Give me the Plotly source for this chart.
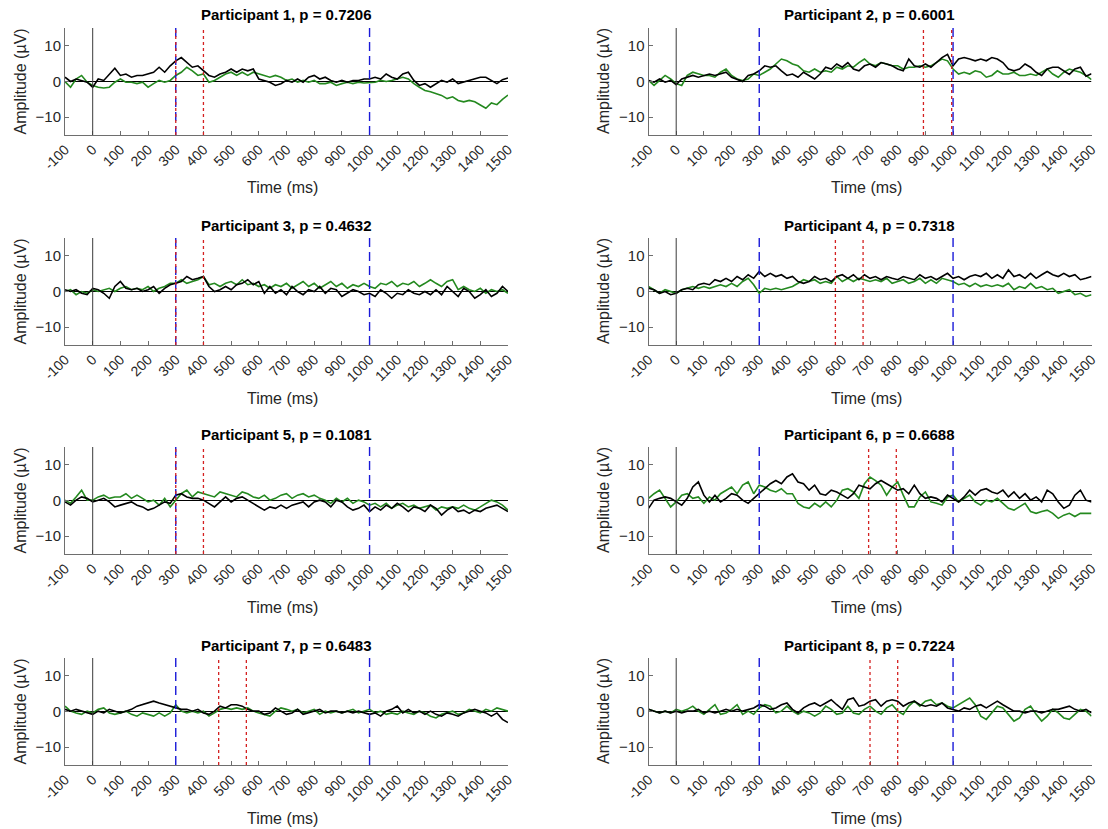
import plotly.graph_objects as go

# Sample times (ms), one value every 20 ms from -100 to 1500
TIME_MS = list(range(-100, 1520, 20))

PARTICIPANTS = [1, 2, 3, 4, 5, 6, 7, 8]
P_VALUES = ["0.7206", "0.6001", "0.4632", "0.7318", "0.1081", "0.6688", "0.6483", "0.7224"]

# Analysis window edges (red dotted) per participant, ms
WINDOW_START = [300, 893, 300, 575, 300, 695, 455, 700]
WINDOW_END = [400, 995, 400, 675, 400, 795, 555, 800]

# Search interval (blue dashed) and stimulus onset, ms
SEARCH_EDGES = [300, 1000]
ONSET_MS = 0

# Condition A (black) and condition B (green) average waveforms, µV
p1_black = [1.2, 0.0, 0.7, 0.3, -0.2, -1.6, 0.7, 0.3, 2.1, 3.7, 1.7, 2.1, 1.2, 1.7, 1.7, 2.1, 2.6, 4.0, 2.6, 4.4,
            5.8, 6.7, 5.3, 4.0, 4.4, 3.0, 1.7, 1.2, 2.1, 2.6, 3.5, 2.6, 3.5, 3.0, 3.5, 0.7, 0.3, -0.2, -1.1, -0.6,
            0.3, -0.2, 0.7, -0.2, 1.2, 1.7, 0.7, 1.2, 0.3, -0.2, 0.3, -0.2, 0.3, 0.3, 0.7, 0.7, 1.2, 0.7, 2.1, 1.2,
            0.7, 2.1, 2.6, 0.3, -1.1, -0.6, -1.6, -0.6, 0.3, -0.2, 0.7, -0.6, -0.2, 0.3, 0.7, 1.2, 1.2, 0.3, -0.6, 0.5,
            1.0]
p1_green = [0.0, -1.6, 0.7, 1.7, -0.2, -1.1, -1.6, -1.8, -1.6, -0.2, 0.7, -0.2, -0.2, -0.6, -0.2, -1.6, -0.6, 0.3, -0.2, 0.3,
            1.7, 2.6, 4.0, 3.0, 1.7, 2.1, -0.2, 0.3, 1.2, 2.1, 2.6, 1.7, 2.6, 1.7, 2.6, 2.1, 1.7, 1.2, 1.7, 1.2,
            0.3, 0.7, -0.2, 0.3, -0.2, 0.3, -0.6, -0.6, -0.2, -1.1, -0.6, -0.2, -0.6, -0.2, -0.4, -0.2, -0.2, 0.3, 0.0, 0.3,
            0.7, 1.2, 0.7, -0.6, -1.6, -2.5, -2.9, -3.4, -3.9, -4.8, -4.3, -5.3, -5.7, -5.3, -5.7, -6.6, -7.5, -6.0, -6.5, -5.0,
            -3.8]
p2_black = [0.3, -0.2, 0.7, -0.2, 0.3, -0.9, 0.7, 1.2, 1.7, 1.2, 1.7, 2.1, 1.7, 2.1, 2.6, 1.2, 0.7, 0.0, 1.7, 2.1,
            3.0, 4.4, 4.0, 4.4, 3.0, 1.7, 2.1, 1.2, 2.6, 1.7, 0.7, 2.1, 4.0, 3.5, 4.9, 4.0, 5.3, 3.5, 3.0, 4.4,
            4.9, 4.0, 5.3, 4.9, 4.4, 3.5, 3.0, 6.3, 4.4, 4.0, 4.9, 4.0, 5.3, 6.7, 7.6, 4.4, 6.3, 6.7, 6.3, 5.8,
            6.3, 5.8, 6.7, 6.3, 5.3, 3.5, 3.0, 3.5, 4.9, 4.0, 2.6, 1.7, 3.5, 4.0, 4.0, 3.0, 2.0, 3.5, 4.0, 1.5,
            2.2]
p2_green = [0.3, -1.1, 0.3, 1.7, 0.7, -0.6, -1.1, 1.7, 2.6, 2.1, 1.7, 1.7, 1.2, 2.6, 3.5, 1.7, 0.7, 0.3, 0.7, 2.1,
            1.7, 2.6, 3.5, 4.9, 6.3, 5.8, 4.9, 4.4, 3.0, 2.6, 3.5, 2.6, 3.0, 2.6, 4.0, 3.5, 4.4, 4.0, 5.3, 6.3,
            4.9, 4.4, 5.3, 4.9, 4.4, 4.4, 3.5, 4.0, 4.0, 4.4, 4.0, 4.4, 5.3, 6.3, 5.8, 3.5, 2.1, 2.6, 2.1, 3.0,
            2.6, 1.2, 1.7, 3.0, 2.1, 2.1, 2.6, 1.7, 1.7, 2.1, 1.7, 2.6, 3.5, 2.1, 1.2, 2.6, 3.5, 3.0, 2.6, 1.7,
            0.5]
p3_black = [0.5, 0.0, 0.5, -0.5, -0.9, 0.9, 0.5, -0.5, -1.9, 1.4, 2.8, 0.9, 0.5, 0.9, 0.0, 0.5, 1.4, -0.5, 0.9, 1.9,
            2.3, 2.8, 4.2, 3.3, 3.7, 4.2, 1.4, 0.0, 0.5, 1.4, 0.5, 1.9, 2.3, 3.3, 1.9, 2.8, -0.5, 1.4, -0.5, 0.5,
            -0.9, 1.4, 0.0, -0.9, 0.5, 0.0, 1.4, -0.5, 0.9, 0.5, -1.4, -0.5, 0.5, 0.0, -0.9, -0.5, -1.4, 0.5, -0.5, -1.9,
            -0.5, -0.9, 0.5, -0.5, -0.9, 0.0, -0.9, 0.5, -0.9, 1.4, 0.0, -1.4, 0.9, 0.0, -1.9, -0.9, 0.5, -1.4, -0.5, 1.4,
            0.0]
p3_green = [0.0, 0.5, -0.9, 0.0, -0.5, 0.5, 0.0, 0.5, 0.9, 0.0, 0.9, 1.4, 0.5, 0.9, 0.5, 1.4, 0.0, 0.9, 1.4, 2.3,
            2.3, 3.3, 2.3, 2.8, 3.3, 4.2, 1.9, 2.3, 1.4, 2.3, 2.8, 1.9, 3.3, 1.9, 2.3, 1.4, 1.9, 0.9, 1.9, 1.4,
            2.3, 0.9, 1.9, 2.8, 1.4, 2.3, 0.9, 1.9, 2.8, 1.4, 2.3, 0.9, 1.9, 1.4, 2.3, 1.4, 0.9, 2.3, 1.9, 2.8,
            1.4, 2.3, 1.9, 2.8, 1.4, 2.3, 3.3, 2.3, 1.4, 2.8, 3.3, 0.5, 1.4, 0.5, 0.0, 0.9, -0.5, 0.5, 0.0, 0.5,
            -0.5]
p4_black = [0.9, 0.5, -0.5, 0.0, -0.9, -0.5, 0.5, 0.9, 0.5, 1.9, 2.3, 1.9, 3.3, 2.8, 3.7, 2.8, 4.2, 3.3, 4.7, 3.7,
            5.6, 4.2, 5.1, 4.2, 4.7, 3.7, 4.2, 2.8, 2.3, 2.8, 4.2, 3.3, 3.7, 2.8, 4.2, 4.7, 3.7, 4.7, 3.3, 4.7,
            3.7, 4.2, 3.3, 4.2, 3.7, 3.3, 4.2, 3.7, 3.3, 4.7, 3.7, 4.2, 3.3, 4.2, 5.1, 3.7, 4.2, 3.3, 4.2, 4.7,
            4.2, 5.1, 3.7, 4.7, 3.7, 6.1, 4.2, 4.7, 3.7, 5.1, 3.7, 4.7, 5.6, 4.7, 4.2, 5.1, 4.2, 4.7, 3.3, 3.7,
            4.2]
p4_green = [1.4, 0.5, -0.5, 0.5, 0.0, -0.5, 0.5, 0.9, 1.4, 0.9, 1.4, 0.9, 1.4, 1.9, 1.4, 2.3, 1.4, 2.8, 3.7, 1.9,
            -0.5, 0.9, 0.5, 0.9, 0.5, 0.9, 1.4, 2.3, 3.3, 2.8, 3.3, 2.3, 2.8, 2.3, 4.2, 2.8, 3.7, 2.8, 3.7, 3.3,
            2.8, 3.3, 2.8, 3.7, 2.3, 2.8, 3.3, 2.3, 2.8, 3.7, 2.3, 3.3, 2.3, 3.7, 3.3, 2.8, 1.9, 2.3, 1.4, 2.3,
            1.4, 1.9, 1.4, 1.9, 1.4, 2.3, 0.5, 1.4, 0.9, 2.3, 0.9, 1.4, 0.5, 0.9, -0.5, 0.0, 0.5, -0.9, -0.5, -1.4,
            -0.9]
p5_black = [-0.4, -1.3, 0.1, 1.0, 0.6, -0.4, 0.1, 0.6, -0.4, -1.8, -1.3, -0.8, -0.4, -1.3, -1.8, -2.7, -2.2, -1.3, -0.4, -0.8,
            1.5, 1.9, 1.0, 0.6, 0.6, 0.1, -0.8, -1.8, -0.4, 1.0, -0.4, 0.6, 1.0, 0.1, -0.8, -1.8, -2.7, -1.8, -2.2, -1.3,
            -2.2, -1.3, -0.8, -0.4, -1.8, -0.4, 0.1, -0.4, -1.8, 0.1, -0.4, -1.8, -2.7, -2.2, -1.3, -3.1, -1.8, -2.7, -1.3, -2.2,
            -0.8, -1.8, -3.1, -1.8, -2.2, -3.1, -1.3, -2.2, -4.1, -2.7, -1.8, -3.1, -2.7, -3.6, -2.7, -3.1, -2.2, -1.8, -1.3, -2.2,
            -3.1]
p5_green = [0.1, -0.8, 1.0, 2.9, 0.1, 0.1, 1.0, 1.5, 0.6, 1.0, 1.0, 1.9, 0.6, 1.5, 0.6, -0.4, 0.1, -1.3, 0.6, -1.8,
            0.1, 1.9, 2.9, 1.0, 2.4, 1.9, 1.5, 1.0, 2.4, 1.9, 1.5, 1.0, 2.4, 1.9, 1.0, 0.6, 1.5, 0.1, 0.6, 1.5,
            1.9, 0.6, 1.5, 1.9, 1.0, 1.5, 0.6, 0.1, -0.8, 0.6, -0.4, 0.6, -0.8, 0.1, -0.4, -1.3, -0.8, -1.8, -0.8, -2.2,
            -1.3, -0.8, -1.8, -1.3, -2.2, -1.8, -1.3, -2.7, -1.8, -2.2, -1.8, -2.2, -1.3, -2.2, -2.7, -1.8, -0.8, 0.1, -0.4, -1.3,
            -2.7]
p6_black = [-2.2, 0.1, 0.6, 1.0, 0.6, -0.4, -1.3, 0.6, 3.8, 5.2, 1.5, -0.4, 1.5, -0.4, 0.6, 1.9, 1.5, 0.1, -0.8, 0.6,
            1.9, 3.3, 4.7, 5.6, 4.7, 6.6, 7.5, 5.2, 4.7, 2.9, 4.3, 1.9, 1.5, 2.9, 2.4, 1.5, 0.6, 1.9, 4.3, 3.8,
            3.3, 4.7, 5.6, 4.7, 3.8, 2.9, 3.3, 1.9, 4.3, 1.9, 0.6, 1.0, 0.6, -0.4, 1.5, 0.6, -0.4, 1.0, 2.9, 1.5,
            2.9, 3.3, 2.4, 1.9, 2.9, 1.0, 2.4, 0.6, 1.9, 0.1, 1.0, -0.4, 2.9, 1.9, -0.4, -2.2, -1.3, 1.5, 2.9, 0.1,
            -0.4]
p6_green = [0.6, 1.9, 2.9, 0.6, -1.8, -0.4, 1.5, 1.9, 0.6, 1.0, -0.8, 1.0, 0.1, 1.9, 2.9, 3.8, 1.9, 4.3, 5.2, 1.9,
            4.3, 3.8, 2.9, 2.4, 3.3, 1.9, 1.9, -0.8, -1.8, -2.2, -0.8, -1.8, -0.4, -1.8, 0.1, 2.9, 3.3, 2.4, 0.6, 4.7,
            6.6, 5.6, 4.3, 1.5, 3.8, 5.2, 1.5, -1.8, -1.8, 1.0, 2.4, -0.4, -0.8, -1.3, 1.0, 1.5, -0.4, 0.6, 1.5, -0.4,
            -1.3, 0.1, -0.4, 0.6, -0.8, -2.2, -2.7, -1.8, -0.8, -3.1, -3.6, -3.1, -2.7, -3.6, -5.0, -4.1, -3.6, -4.5, -3.6, -3.6,
            -3.6]
p7_black = [0.6, 0.1, 0.6, 0.1, -0.4, -0.8, 0.1, -0.4, 0.6, 0.1, -0.4, 0.1, 0.6, 1.5, 1.9, 2.4, 2.9, 2.4, 1.9, 1.5,
            1.0, 0.6, 0.6, 0.1, 0.6, -0.4, -0.8, 0.1, 1.5, 1.0, 1.9, 1.9, 1.5, 0.6, 0.1, 0.1, -0.8, -0.4, 1.0, 0.1,
            -0.8, -0.4, 0.6, -0.8, -0.4, 0.1, 0.6, -0.4, 0.1, 0.1, -0.4, 0.1, -0.4, 0.1, -0.4, -0.8, -0.4, -1.3, 0.1, 0.6,
            1.5, -0.4, 0.6, -0.4, 0.1, -0.8, 0.1, -0.8, -1.3, -0.4, -0.8, -1.3, -0.4, 0.1, 0.6, 0.1, -0.4, -1.3, -0.4, -2.2,
            -3.1]
p7_green = [1.5, 0.1, -0.4, -0.8, 0.1, -0.4, 0.6, 1.0, -0.4, -0.8, -0.4, 0.1, -0.8, -1.3, -0.4, -0.8, -1.3, -0.4, -1.3, -0.4,
            1.9, 0.1, -0.4, 0.1, -0.4, 0.1, -1.3, -0.4, 0.6, 1.0, 0.6, 1.0, 0.6, 1.0, 0.1, -0.4, -0.8, -1.3, 0.1, 1.0,
            0.6, 0.1, 0.6, -0.4, 0.1, 0.6, -0.8, 0.1, -0.4, 0.1, -0.4, 0.1, 0.6, -0.4, 0.1, 0.6, -0.4, 0.1, -0.8, -0.4,
            -0.8, 0.1, -0.4, -0.8, 0.1, -0.4, -1.3, -1.8, -0.8, -0.4, 0.1, -0.8, -0.4, 0.6, 0.1, -0.4, 0.6, 0.1, 1.0, 0.6,
            0.1]
p8_black = [0.6, 0.1, -0.4, 0.1, -0.4, 0.1, -0.4, 0.1, 0.1, 0.6, -0.4, 0.1, -0.4, 0.1, 0.6, 0.1, 0.6, 0.1, 0.6, 1.0,
            1.9, 1.5, 0.6, 1.0, 1.9, 2.4, 0.6, -0.4, 1.0, 1.9, 2.4, 1.5, 2.4, 3.3, 1.9, 0.6, 3.3, 3.8, 1.5, 1.9,
            2.9, 3.3, 1.5, 2.9, 3.3, 2.9, 1.5, 2.4, 2.9, 1.9, 1.5, 1.9, 1.5, 2.4, 1.0, 0.6, 0.1, 1.0, 0.6, 1.5,
            1.9, 1.0, 1.9, 2.9, 1.9, 1.0, 0.1, 0.1, -0.4, 0.1, 0.1, -0.4, 0.1, 0.6, 0.6, 1.0, 1.5, 0.6, 0.1, 0.6,
            -0.4]
p8_green = [0.6, 0.1, -0.4, 0.1, -0.4, 0.6, 0.1, 0.6, 1.5, 0.1, -0.8, 0.6, 1.9, -0.8, -0.4, 0.6, 1.9, -0.8, 0.1, -0.8,
            1.0, 1.9, 1.5, -0.4, 0.1, 1.5, 0.1, -0.8, 0.1, -0.4, -1.3, -0.4, 1.5, 0.6, -0.8, -0.4, 1.5, -0.4, -0.8, 0.6,
            1.5, 0.1, -0.8, 1.0, 1.9, 0.1, -0.8, 1.5, 2.9, 1.5, 2.9, 3.3, 1.9, 2.4, 1.5, 1.0, 1.9, 2.9, 3.8, 1.9,
            -1.3, -2.2, -0.4, 1.5, 1.0, -0.8, -2.7, -1.8, 0.6, 1.5, -0.8, -2.7, -1.3, 0.6, -0.4, -1.8, -2.2, -0.8, 0.6, 0.1,
            -1.3]

BLACK_SERIES = [p1_black, p2_black, p3_black, p4_black, p5_black, p6_black, p7_black, p8_black]
GREEN_SERIES = [p1_green, p2_green, p3_green, p4_green, p5_green, p6_green, p7_green, p8_green]

X_TICKS = list(range(-100, 1600, 100))
Y_TICKS = [-10, 0, 10]
X_RANGE = [-100, 1500]
Y_RANGE = [-15, 15]

# ---- page geometry (pixels) ----
W, H = 1108, 829
COL_LEFT = [65, 648.5]
PLOT_W = 443
ROW_TOP = [28, 238, 447, 658]
PLOT_H = 107

FONT = "Liberation Sans, Arial, sans-serif"
TEXT_COLOR = "#262626"
AXIS_COLOR = "#6e6e6e"
GREEN = "#24891f"


def px_x(x):
    return x / W


def px_y(y):
    return 1 - y / H


fig = go.Figure()
shapes = []
annotations = []
layout = {}

for i, pid in enumerate(PARTICIPANTS):
    row, col = divmod(i, 2)
    suffix = "" if i == 0 else str(i + 1)
    xname, yname = "x" + suffix, "y" + suffix
    left = COL_LEFT[col]
    top = ROW_TOP[row]

    layout["xaxis" + suffix] = dict(
        domain=[px_x(left), px_x(left + PLOT_W)],
        anchor=yname, range=X_RANGE, tickvals=X_TICKS,
        ticktext=[str(v) for v in X_TICKS], tickangle=-45,
        ticks="inside", ticklen=4, tickcolor=AXIS_COLOR,
        showline=True, linecolor=AXIS_COLOR, linewidth=1,
        showgrid=False, zeroline=False, automargin=False,
        tickfont=dict(family=FONT, size=14, color=TEXT_COLOR),
    )
    layout["yaxis" + suffix] = dict(
        domain=[px_y(top + PLOT_H), px_y(top)],
        anchor=xname, range=Y_RANGE, tickvals=Y_TICKS,
        ticks="inside", ticklen=4, tickcolor=AXIS_COLOR,
        showline=True, linecolor=AXIS_COLOR, linewidth=1,
        showgrid=False, zeroline=False, automargin=False,
        tickfont=dict(family=FONT, size=15, color=TEXT_COLOR),
    )

    # baseline at 0 µV
    shapes.append(dict(type="line", xref=xname, yref=yname, x0=X_RANGE[0], x1=X_RANGE[1],
                       y0=0, y1=0, line=dict(color="#000000", width=1), layer="below"))

    fig.add_trace(go.Scatter(x=TIME_MS, y=GREEN_SERIES[i], mode="lines", xaxis=xname, yaxis=yname,
                             line=dict(color=GREEN, width=1.6), showlegend=False))
    fig.add_trace(go.Scatter(x=TIME_MS, y=BLACK_SERIES[i], mode="lines", xaxis=xname, yaxis=yname,
                             line=dict(color="#000000", width=1.6), showlegend=False))

    # stimulus onset
    shapes.append(dict(type="line", xref=xname, yref=yname + " domain", x0=ONSET_MS, x1=ONSET_MS,
                       y0=0, y1=1, line=dict(color="#3a3a3a", width=1)))
    # search interval
    for edge in SEARCH_EDGES:
        shapes.append(dict(type="line", xref=xname, yref=yname + " domain", x0=edge, x1=edge,
                           y0=0, y1=1, line=dict(color="#1a1ad8", width=1.4, dash="9px,5px")))
    # analysis window
    for edge in (WINDOW_START[i], WINDOW_END[i]):
        shapes.append(dict(type="line", xref=xname, yref=yname + " domain", x0=edge, x1=edge,
                           y0=0, y1=1, line=dict(color="#d42020", width=1.3, dash="dot")))

    cx = left + PLOT_W / 2
    annotations.append(dict(text=f"<b>Participant {pid}, p = {P_VALUES[i]}</b>",
                            xref="paper", yref="paper", x=px_x(cx), y=px_y(top - 13),
                            showarrow=False, xanchor="center", yanchor="middle",
                            font=dict(family=FONT, size=15, color="#000000")))
    annotations.append(dict(text="Time (ms)", xref="paper", yref="paper",
                            x=px_x(cx - 4), y=px_y(top + PLOT_H + 53),
                            showarrow=False, xanchor="center", yanchor="middle",
                            font=dict(family=FONT, size=16, color=TEXT_COLOR)))
    annotations.append(dict(text="Amplitude (µV)", xref="paper", yref="paper",
                            x=px_x(left - 45), y=px_y(top + PLOT_H / 2), textangle=-90,
                            showarrow=False, xanchor="center", yanchor="middle",
                            font=dict(family=FONT, size=16, color=TEXT_COLOR)))

fig.update_layout(
    width=W, height=H,
    margin=dict(l=0, r=0, t=0, b=0),
    paper_bgcolor="white", plot_bgcolor="white",
    shapes=shapes, annotations=annotations,
    **layout,
)

fig.write_html("out.html")
